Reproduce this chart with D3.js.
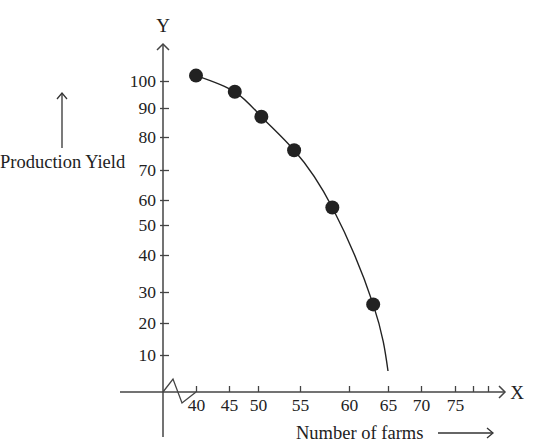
<!DOCTYPE html>
<html>
<head>
<meta charset="utf-8">
<script src="https://cdn.jsdelivr.net/npm/d3@7"></script>
<style>
  body { margin: 0; background: #fff; }
  text { font-family: "Liberation Serif", "DejaVu Serif", serif; fill: #222; }
</style>
</head>
<body>
<div id="chart"></div>
<script>
// Data
const farms = [40, 46, 50.4, 54.3, 58.3, 63.1];
const yieldValues = [102, 96, 87, 76, 57, 26];
// the drawn curve runs on past the last point down towards the axis
const curveEnd = {farms: 65, yield: 5};

const xTickValues = [40, 45, 50, 55, 60, 65, 70, 75, 78, 80];
const xTickLabels = ["40", "45", "50", "55", "60", "65", "70", "75", "", ""];
const yTickValues = [10, 20, 30, 40, 50, 60, 70, 80, 90, 100];

// The original is hand drawn, the tick spacing is uneven,
// so the scales are piecewise between the tick marks
const xTickPos = [196, 229, 258, 300, 349, 388, 421, 455, 473, 488];
const yTickPos = [355, 323, 292, 255, 225, 200, 170, 137, 108, 81];

const width = 537, height = 448;
const originX = 163, originY = 392;
const axisColor = "#444";

const svg = d3.select("#chart")
    .append("svg")
    .attr("width", width)
    .attr("height", height);

const xScale = d3.scaleLinear().domain(xTickValues).range(xTickPos);
const yScale = d3.scaleLinear().domain(yTickValues).range(yTickPos);

// Axis lines
svg.append("line")
    .attr("x1", originX).attr("x2", originX)
    .attr("y1", 437).attr("y2", 44)
    .attr("stroke", axisColor).attr("stroke-width", 1.5);

svg.append("line")
    .attr("x1", 120).attr("x2", 504)
    .attr("y1", originY).attr("y2", originY)
    .attr("stroke", axisColor).attr("stroke-width", 1.5);

// Arrow heads (open chevrons)
function chevron(x, y, dir) {
    const s = 6;
    let d;
    if (dir === "up") d = `M${x - s},${y + s}L${x},${y}L${x + s},${y + s}`;
    else d = `M${x - s},${y - s}L${x},${y}L${x - s},${y + s}`;
    svg.append("path")
        .attr("d", d)
        .attr("fill", "none")
        .attr("stroke", axisColor)
        .attr("stroke-width", 1.5);
}
chevron(originX, 44, "up");
chevron(505, originY, "right");

// Axis break zigzag
svg.append("path")
    .attr("d", `M${originX},${originY}L173,379L182,403L${xScale(40)},${originY}`)
    .attr("fill", "none")
    .attr("stroke", axisColor)
    .attr("stroke-width", 1.3);

// X axis ticks
const xAxis = svg.append("g")
    .attr("transform", `translate(0,${originY})`)
    .call(d3.axisBottom(xScale)
        .tickValues(xTickValues)
        .tickFormat((d, i) => xTickLabels[i])
        .tickSize(-6)
        .tickPadding(7));
xAxis.select(".domain").remove();
xAxis.selectAll("line").attr("stroke", axisColor).attr("stroke-width", 1.3);
xAxis.selectAll("text")
    .style("font-family", "'Liberation Serif', serif")
    .style("font-size", "17.5px")
    .attr("fill", "#222");

// Y axis ticks
const yAxis = svg.append("g")
    .attr("transform", `translate(${originX},0)`)
    .call(d3.axisLeft(yScale)
        .tickValues(yTickValues)
        .tickSize(3)
        .tickPadding(4));
yAxis.select(".domain").remove();
yAxis.selectAll("line")
    .attr("x1", 6)
    .attr("stroke", axisColor).attr("stroke-width", 1.3);
yAxis.selectAll("text")
    .style("font-family", "'Liberation Serif', serif")
    .style("font-size", "17.5px")
    .attr("fill", "#222");

// Axis letters
svg.append("text")
    .attr("x", originX)
    .attr("y", 32)
    .style("text-anchor", "middle")
    .style("font-size", "19px")
    .attr("fill", "#1b2338")
    .text("Y");

svg.append("text")
    .attr("x", 517)
    .attr("y", 399)
    .style("text-anchor", "middle")
    .style("font-size", "19px")
    .text("X");

// Curve through the points
const points = farms.map((f, i) => ({farms: f, yield: yieldValues[i]}));
const line = d3.line()
    .x(d => xScale(d.farms))
    .y(d => yScale(d.yield))
    .curve(d3.curveNatural);

svg.append("path")
    .datum(points.concat([curveEnd]))
    .attr("d", line)
    .attr("fill", "none")
    .attr("stroke", "#222")
    .attr("stroke-width", 1.4);

svg.selectAll("circle.pt")
    .data(points)
    .enter()
    .append("circle")
    .attr("class", "pt")
    .attr("cx", d => xScale(d.farms))
    .attr("cy", d => yScale(d.yield))
    .attr("r", 7)
    .attr("fill", "#222");

// Axis titles with arrows
svg.append("text")
    .attr("x", 0)
    .attr("y", 168)
    .style("font-size", "18.5px")
    .text("Production Yield");

svg.append("line")
    .attr("x1", 62).attr("x2", 62)
    .attr("y1", 148).attr("y2", 94)
    .attr("stroke", "#333").attr("stroke-width", 1.3);
svg.append("path")
    .attr("d", "M57,99L62,93L67,99")
    .attr("fill", "none").attr("stroke", "#333").attr("stroke-width", 1.3);

svg.append("text")
    .attr("x", 296)
    .attr("y", 439)
    .style("font-size", "18.5px")
    .text("Number of farms");

svg.append("line")
    .attr("x1", 438).attr("x2", 492)
    .attr("y1", 433).attr("y2", 433)
    .attr("stroke", "#333").attr("stroke-width", 1.3);
svg.append("path")
    .attr("d", "M487,428L493,433L487,438")
    .attr("fill", "none").attr("stroke", "#333").attr("stroke-width", 1.3);
</script>
</body>
</html>
